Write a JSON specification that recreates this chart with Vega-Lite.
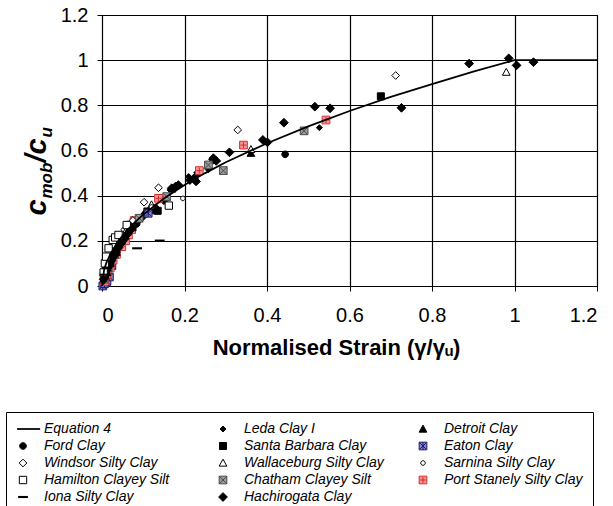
{
  "$schema": "https://vega.github.io/schema/vega-lite/v6.json",
  "width": 495,
  "height": 271,
  "autosize": "none",
  "padding": {"left": 102, "top": 15, "right": 16, "bottom": 220},
  "background": "white",
  "config": {
    "view": {"stroke": "black", "strokeWidth": 1},
    "axis": {
      "labelFont": "Liberation Sans",
      "labelFontSize": 20,
      "labelColor": "black",
      "titleFont": "Liberation Sans",
      "titleColor": "black",
      "domainColor": "black",
      "tickColor": "black",
      "gridColor": "black"
    }
  },
  "datasets": {
    "points": [
      {"s": "Eaton Clay", "x": 0.002, "y": 0.0}, {"s": "Eaton Clay", "x": 0.006, "y": 0.01}, {"s": "Eaton Clay", "x": 0.012, "y": 0.02}, {"s": "Eaton Clay", "x": 0.018, "y": 0.04}, {"s": "Eaton Clay", "x": 0.01, "y": 0.05}, {"s": "Eaton Clay", "x": 0.024, "y": 0.09},
      {"s": "Port Stanely Silty Clay", "x": 0.006, "y": 0.02}, {"s": "Port Stanely Silty Clay", "x": 0.012, "y": 0.05}, {"s": "Port Stanely Silty Clay", "x": 0.02, "y": 0.08}, {"s": "Port Stanely Silty Clay", "x": 0.027, "y": 0.115}, {"s": "Port Stanely Silty Clay", "x": 0.035, "y": 0.14}, {"s": "Port Stanely Silty Clay", "x": 0.048, "y": 0.174}, {"s": "Port Stanely Silty Clay", "x": 0.057, "y": 0.2}, {"s": "Port Stanely Silty Clay", "x": 0.064, "y": 0.226}, {"s": "Port Stanely Silty Clay", "x": 0.072, "y": 0.25}, {"s": "Port Stanely Silty Clay", "x": 0.078, "y": 0.29},
      {"s": "Sarnina Silty Clay", "x": 0.01, "y": 0.07}, {"s": "Sarnina Silty Clay", "x": 0.03, "y": 0.16}, {"s": "Sarnina Silty Clay", "x": 0.08, "y": 0.27},
      {"s": "Windsor Silty Clay", "x": 0.005, "y": 0.06}, {"s": "Windsor Silty Clay", "x": 0.012, "y": 0.1}, {"s": "Windsor Silty Clay", "x": 0.03, "y": 0.18}, {"s": "Windsor Silty Clay", "x": 0.055, "y": 0.25},
      {"s": "Wallaceburg Silty Clay", "x": 0.01, "y": 0.07}, {"s": "Wallaceburg Silty Clay", "x": 0.03, "y": 0.14}, {"s": "Wallaceburg Silty Clay", "x": 0.06, "y": 0.25},
      {"s": "Chatham Clayey Silt", "x": 0.005, "y": 0.03}, {"s": "Chatham Clayey Silt", "x": 0.015, "y": 0.08}, {"s": "Chatham Clayey Silt", "x": 0.03, "y": 0.14}, {"s": "Chatham Clayey Silt", "x": 0.045, "y": 0.2}, {"s": "Chatham Clayey Silt", "x": 0.07, "y": 0.27},
      {"s": "Ford Clay", "x": 0.006, "y": 0.04}, {"s": "Ford Clay", "x": 0.014, "y": 0.08}, {"s": "Ford Clay", "x": 0.025, "y": 0.12}, {"s": "Ford Clay", "x": 0.038, "y": 0.17}, {"s": "Ford Clay", "x": 0.05, "y": 0.2}, {"s": "Ford Clay", "x": 0.065, "y": 0.24}, {"s": "Ford Clay", "x": 0.084, "y": 0.275}, {"s": "Ford Clay", "x": 0.105, "y": 0.32}, {"s": "Ford Clay", "x": 0.27, "y": 0.556}, {"s": "Ford Clay", "x": 0.444, "y": 0.583},
      {"s": "Leda Clay I", "x": 0.003, "y": 0.02}, {"s": "Leda Clay I", "x": 0.01, "y": 0.06}, {"s": "Leda Clay I", "x": 0.018, "y": 0.1}, {"s": "Leda Clay I", "x": 0.026, "y": 0.12}, {"s": "Leda Clay I", "x": 0.036, "y": 0.16}, {"s": "Leda Clay I", "x": 0.045, "y": 0.18}, {"s": "Leda Clay I", "x": 0.058, "y": 0.22}, {"s": "Leda Clay I", "x": 0.068, "y": 0.245}, {"s": "Leda Clay I", "x": 0.082, "y": 0.28}, {"s": "Leda Clay I", "x": 0.096, "y": 0.307}, {"s": "Leda Clay I", "x": 0.165, "y": 0.425}, {"s": "Leda Clay I", "x": 0.21, "y": 0.485}, {"s": "Leda Clay I", "x": 0.266, "y": 0.56}, {"s": "Leda Clay I", "x": 0.527, "y": 0.701},
      {"s": "Santa Barbara Clay", "x": 0.008, "y": 0.05}, {"s": "Santa Barbara Clay", "x": 0.02, "y": 0.1}, {"s": "Santa Barbara Clay", "x": 0.032, "y": 0.15}, {"s": "Santa Barbara Clay", "x": 0.05, "y": 0.21}, {"s": "Santa Barbara Clay", "x": 0.074, "y": 0.26}, {"s": "Santa Barbara Clay", "x": 0.11, "y": 0.33}, {"s": "Santa Barbara Clay", "x": 0.135, "y": 0.333}, {"s": "Santa Barbara Clay", "x": 0.676, "y": 0.84},
      {"s": "Hachirogata Clay", "x": 0.004, "y": 0.03}, {"s": "Hachirogata Clay", "x": 0.008, "y": 0.05}, {"s": "Hachirogata Clay", "x": 0.012, "y": 0.07}, {"s": "Hachirogata Clay", "x": 0.016, "y": 0.09}, {"s": "Hachirogata Clay", "x": 0.022, "y": 0.11}, {"s": "Hachirogata Clay", "x": 0.028, "y": 0.13}, {"s": "Hachirogata Clay", "x": 0.034, "y": 0.15}, {"s": "Hachirogata Clay", "x": 0.04, "y": 0.17}, {"s": "Hachirogata Clay", "x": 0.047, "y": 0.19}, {"s": "Hachirogata Clay", "x": 0.055, "y": 0.21}, {"s": "Hachirogata Clay", "x": 0.062, "y": 0.23}, {"s": "Hachirogata Clay", "x": 0.07, "y": 0.25}, {"s": "Hachirogata Clay", "x": 0.078, "y": 0.27}, {"s": "Hachirogata Clay", "x": 0.088, "y": 0.29}, {"s": "Hachirogata Clay", "x": 0.1, "y": 0.31}, {"s": "Hachirogata Clay", "x": 0.112, "y": 0.325}, {"s": "Hachirogata Clay", "x": 0.124, "y": 0.337}, {"s": "Hachirogata Clay", "x": 0.13, "y": 0.345}, {"s": "Hachirogata Clay", "x": 0.15, "y": 0.38}, {"s": "Hachirogata Clay", "x": 0.169, "y": 0.433}, {"s": "Hachirogata Clay", "x": 0.178, "y": 0.44}, {"s": "Hachirogata Clay", "x": 0.185, "y": 0.447}, {"s": "Hachirogata Clay", "x": 0.213, "y": 0.469}, {"s": "Hachirogata Clay", "x": 0.223, "y": 0.477}, {"s": "Hachirogata Clay", "x": 0.228, "y": 0.463}, {"s": "Hachirogata Clay", "x": 0.233, "y": 0.502}, {"s": "Hachirogata Clay", "x": 0.258, "y": 0.521}, {"s": "Hachirogata Clay", "x": 0.27, "y": 0.566}, {"s": "Hachirogata Clay", "x": 0.277, "y": 0.554}, {"s": "Hachirogata Clay", "x": 0.309, "y": 0.592}, {"s": "Hachirogata Clay", "x": 0.39, "y": 0.647}, {"s": "Hachirogata Clay", "x": 0.401, "y": 0.636}, {"s": "Hachirogata Clay", "x": 0.441, "y": 0.723}, {"s": "Hachirogata Clay", "x": 0.516, "y": 0.794}, {"s": "Hachirogata Clay", "x": 0.553, "y": 0.787}, {"s": "Hachirogata Clay", "x": 0.726, "y": 0.789}, {"s": "Hachirogata Clay", "x": 0.89, "y": 0.985}, {"s": "Hachirogata Clay", "x": 0.986, "y": 1.008}, {"s": "Hachirogata Clay", "x": 1.005, "y": 0.977}, {"s": "Hachirogata Clay", "x": 1.046, "y": 0.991},
      {"s": "Detroit Clay", "x": 0.012, "y": 0.06}, {"s": "Detroit Clay", "x": 0.035, "y": 0.15}, {"s": "Detroit Clay", "x": 0.08, "y": 0.28}, {"s": "Detroit Clay", "x": 0.17, "y": 0.43}, {"s": "Detroit Clay", "x": 0.361, "y": 0.588},
      {"s": "Hamilton Clayey Silt", "x": 0.004, "y": 0.06}, {"s": "Hamilton Clayey Silt", "x": 0.007, "y": 0.1}, {"s": "Hamilton Clayey Silt", "x": 0.01, "y": 0.13}, {"s": "Hamilton Clayey Silt", "x": 0.016, "y": 0.167}, {"s": "Hamilton Clayey Silt", "x": 0.026, "y": 0.204}, {"s": "Hamilton Clayey Silt", "x": 0.032, "y": 0.215}, {"s": "Hamilton Clayey Silt", "x": 0.04, "y": 0.226}, {"s": "Hamilton Clayey Silt", "x": 0.06, "y": 0.27}, {"s": "Hamilton Clayey Silt", "x": 0.162, "y": 0.356},
      {"s": "Iona Silty Clay", "x": 0.006, "y": 0.05}, {"s": "Iona Silty Clay", "x": 0.012, "y": 0.08}, {"s": "Iona Silty Clay", "x": 0.085, "y": 0.167}, {"s": "Iona Silty Clay", "x": 0.14, "y": 0.201},
      {"s": "Windsor Silty Clay", "x": 0.075, "y": 0.29}, {"s": "Windsor Silty Clay", "x": 0.102, "y": 0.371}, {"s": "Windsor Silty Clay", "x": 0.137, "y": 0.435}, {"s": "Windsor Silty Clay", "x": 0.329, "y": 0.691}, {"s": "Windsor Silty Clay", "x": 0.712, "y": 0.932},
      {"s": "Wallaceburg Silty Clay", "x": 0.12, "y": 0.36}, {"s": "Wallaceburg Silty Clay", "x": 0.361, "y": 0.605}, {"s": "Wallaceburg Silty Clay", "x": 0.98, "y": 0.947},
      {"s": "Chatham Clayey Silt", "x": 0.09, "y": 0.3}, {"s": "Chatham Clayey Silt", "x": 0.157, "y": 0.396}, {"s": "Chatham Clayey Silt", "x": 0.258, "y": 0.536}, {"s": "Chatham Clayey Silt", "x": 0.294, "y": 0.511}, {"s": "Chatham Clayey Silt", "x": 0.49, "y": 0.687},
      {"s": "Eaton Clay", "x": 0.112, "y": 0.322},
      {"s": "Sarnina Silty Clay", "x": 0.12, "y": 0.35}, {"s": "Sarnina Silty Clay", "x": 0.196, "y": 0.388},
      {"s": "Port Stanely Silty Clay", "x": 0.137, "y": 0.388}, {"s": "Port Stanely Silty Clay", "x": 0.236, "y": 0.511}, {"s": "Port Stanely Silty Clay", "x": 0.343, "y": 0.624}, {"s": "Port Stanely Silty Clay", "x": 0.543, "y": 0.735}
    ],
    "curve": [
      {"x": 0, "y": 0}, {"x": 0.005, "y": 0.07}, {"x": 0.01, "y": 0.1}, {"x": 0.02, "y": 0.14}, {"x": 0.04, "y": 0.2}, {"x": 0.06, "y": 0.245}, {"x": 0.08, "y": 0.283}, {"x": 0.1, "y": 0.316}, {"x": 0.15, "y": 0.387}, {"x": 0.2, "y": 0.447}, {"x": 0.25, "y": 0.5}, {"x": 0.3, "y": 0.548}, {"x": 0.4, "y": 0.632}, {"x": 0.5, "y": 0.707}, {"x": 0.6, "y": 0.775}, {"x": 0.7, "y": 0.837}, {"x": 0.8, "y": 0.894}, {"x": 0.9, "y": 0.949}, {"x": 1.0, "y": 1.0}, {"x": 1.2, "y": 1.0}
    ]
  },
  "layer": [
    {
      "data": {"name": "points"},
      "mark": {"type": "point", "size": 49, "strokeWidth": 1, "opacity": 1},
      "encoding": {
        "x": {
          "field": "x", "type": "quantitative",
          "scale": {"domain": [0, 1.2], "nice": false},
          "axis": {
            "values": [0, 0.2, 0.4, 0.6, 0.8, 1, 1.2], "format": "~g",
            "grid": true, "gridWidth": 1.2, "tickSize": 5, "labelPadding": 14, "domain": false,
            "title": "Normalised Strain (γ/γᵤ)", "titleFontSize": 22, "titleFontWeight": "bold",
            "titleX": 234, "titleY": 68, "titleBaseline": "alphabetic", "titleAlign": "center"
          }
        },
        "y": {
          "field": "y", "type": "quantitative",
          "scale": {"domain": [0, 1.2], "nice": false},
          "axis": {
            "orient": "left", "values": [0, 0.2, 0.4, 0.6, 0.8, 1, 1.2], "format": "~g",
            "grid": true, "gridWidth": 1.2, "tickSize": 5, "labelPadding": 9, "domain": false, "title": null
          }
        },
        "shape": {
          "field": "s", "type": "nominal",
          "scale": {
            "domain": ["Equation 4", "Ford Clay", "Windsor Silty Clay", "Hamilton Clayey Silt", "Iona Silty Clay", "Leda Clay I", "Santa Barbara Clay", "Wallaceburg Silty Clay", "Chatham Clayey Silt", "Hachirogata Clay", "Detroit Clay", "Eaton Clay", "Sarnina Silty Clay", "Port Stanely Silty Clay"],
            "range": [
              "M-1.7,-0.25H4.9V0.25H-1.7Z",
              "M0.95,0A0.95,0.95,0,1,1,-0.95,0A0.95,0.95,0,1,1,0.95,0Z",
              "M0,-1.1L1.1,0L0,1.1L-1.1,0Z",
              "M-1.05,-1.05H1.05V1.05H-1.05Z",
              "M-1.4,-0.3H1.4V0.3H-1.4Z",
              "M0,-0.85L0.85,0L0,0.85L-0.85,0Z",
              "M-1,-1H1V1H-1Z",
              "M0,-1.1L1.1,0.9H-1.1Z",
              "M-1.1,-1.1H1.1V1.1H-1.1Z M-1.1,-1.1L1.1,1.1 M1.1,-1.1L-1.1,1.1",
              "M0,-1.25L1.25,0L0,1.25L-1.25,0Z",
              "M0,-1.1L1.1,0.9H-1.1Z",
              "M-1.1,-1.1H1.1V1.1H-1.1Z M-0.9,-0.9L0.9,0.9 M0.9,-0.9L-0.9,0.9 M0,-1.1V1.1",
              "M0.65,0A0.65,0.65,0,1,1,-0.65,0A0.65,0.65,0,1,1,0.65,0Z",
              "M-1.1,-1.1H1.1V1.1H-1.1Z M0,-0.85V0.85 M-0.85,0H0.85"
            ]
          },
          "legend": {
            "title": null, "orient": "none", "legendX": -96, "legendY": 397,
            "columns": 3, "gridAlign": "all", "columnPadding": 32, "rowPadding": 3, "padding": 10,
            "strokeColor": "black", "fillColor": "white",
            "labelFont": "Liberation Sans", "labelFontStyle": "italic", "labelFontSize": 14, "labelColor": "black",
            "labelOffset": 14, "symbolSize": 49, "symbolStrokeWidth": 1, "symbolOpacity": 1
          }
        },
        "fill": {
          "field": "s", "type": "nominal",
          "scale": {
            "domain": ["Equation 4", "Ford Clay", "Windsor Silty Clay", "Hamilton Clayey Silt", "Iona Silty Clay", "Leda Clay I", "Santa Barbara Clay", "Wallaceburg Silty Clay", "Chatham Clayey Silt", "Hachirogata Clay", "Detroit Clay", "Eaton Clay", "Sarnina Silty Clay", "Port Stanely Silty Clay"],
            "range": ["black", "black", "white", "white", "black", "black", "black", "white", "#9a9a9a", "black", "black", "#8585c8", "white", "#f79494"]
          },
          "legend": {
            "title": null, "orient": "none", "legendX": -96, "legendY": 397,
            "columns": 3, "gridAlign": "all", "columnPadding": 32, "rowPadding": 3, "padding": 10,
            "strokeColor": "black", "fillColor": "white",
            "labelFont": "Liberation Sans", "labelFontStyle": "italic", "labelFontSize": 14, "labelColor": "black",
            "labelOffset": 14, "symbolSize": 49, "symbolStrokeWidth": 1, "symbolOpacity": 1
          }
        },
        "stroke": {
          "field": "s", "type": "nominal",
          "scale": {
            "domain": ["Equation 4", "Ford Clay", "Windsor Silty Clay", "Hamilton Clayey Silt", "Iona Silty Clay", "Leda Clay I", "Santa Barbara Clay", "Wallaceburg Silty Clay", "Chatham Clayey Silt", "Hachirogata Clay", "Detroit Clay", "Eaton Clay", "Sarnina Silty Clay", "Port Stanely Silty Clay"],
            "range": ["transparent", "black", "black", "black", "transparent", "black", "black", "black", "#4d4d4d", "black", "black", "#1a1a6e", "black", "#d32f2f"]
          },
          "legend": {
            "title": null, "orient": "none", "legendX": -96, "legendY": 397,
            "columns": 3, "gridAlign": "all", "columnPadding": 32, "rowPadding": 3, "padding": 10,
            "strokeColor": "black", "fillColor": "white",
            "labelFont": "Liberation Sans", "labelFontStyle": "italic", "labelFontSize": 14, "labelColor": "black",
            "labelOffset": 14, "symbolSize": 49, "symbolStrokeWidth": 1, "symbolOpacity": 1
          }
        }
      }
    },
    {
      "data": {"name": "curve"},
      "mark": {"type": "line", "color": "black", "strokeWidth": 1.8},
      "encoding": {
        "x": {"field": "x", "type": "quantitative", "scale": {"domain": [0, 1.2], "nice": false}, "axis": {"values": [0, 0.2, 0.4, 0.6, 0.8, 1, 1.2], "format": "~g", "grid": true, "gridWidth": 1.2, "tickSize": 5, "labelPadding": 14, "domain": false, "title": "Normalised Strain (γ/γᵤ)", "titleFontSize": 22, "titleFontWeight": "bold", "titleX": 234, "titleY": 68, "titleBaseline": "alphabetic", "titleAlign": "center"}},
        "y": {
          "field": "y", "type": "quantitative", "scale": {"domain": [0, 1.2], "nice": false},
          "axis": {"orient": "left", "grid": false, "labels": false, "ticks": false, "domain": false,
            "title": "c", "titleFontSize": 29, "titleFontStyle": "italic", "titleFontWeight": "bold",
            "titleAngle": -90, "titleAlign": "left", "titleBaseline": "alphabetic", "titleX": -57, "titleY": 200}
        }
      }
    },
    {
      "data": {"name": "curve"},
      "mark": {"type": "point", "opacity": 0},
      "encoding": {
        "y": {
          "field": "y", "type": "quantitative", "scale": {"domain": [0, 1.2], "nice": false},
          "axis": {"orient": "left", "grid": false, "labels": false, "ticks": false, "domain": false,
            "title": "mob", "titleFontSize": 17, "titleFontStyle": "italic", "titleFontWeight": "bold",
            "titleAngle": -90, "titleAlign": "left", "titleBaseline": "alphabetic", "titleX": -51, "titleY": 183}
        }
      }
    },
    {
      "data": {"name": "curve"},
      "mark": {"type": "point", "opacity": 0},
      "encoding": {
        "y": {
          "field": "y", "type": "quantitative", "scale": {"domain": [0, 1.2], "nice": false},
          "axis": {"orient": "left", "grid": false, "labels": false, "ticks": false, "domain": false,
            "title": "/c", "titleFontSize": 29, "titleFontStyle": "italic", "titleFontWeight": "bold",
            "titleAngle": -90, "titleAlign": "left", "titleBaseline": "alphabetic", "titleX": -57, "titleY": 147}
        }
      }
    },
    {
      "data": {"name": "curve"},
      "mark": {"type": "point", "opacity": 0},
      "encoding": {
        "y": {
          "field": "y", "type": "quantitative", "scale": {"domain": [0, 1.2], "nice": false},
          "axis": {"orient": "left", "grid": false, "labels": false, "ticks": false, "domain": false,
            "title": "u", "titleFontSize": 17, "titleFontStyle": "italic", "titleFontWeight": "bold",
            "titleAngle": -90, "titleAlign": "left", "titleBaseline": "alphabetic", "titleX": -51, "titleY": 122}
        }
      }
    }
  ],
  "resolve": {"axis": {"y": "independent"}}
}
